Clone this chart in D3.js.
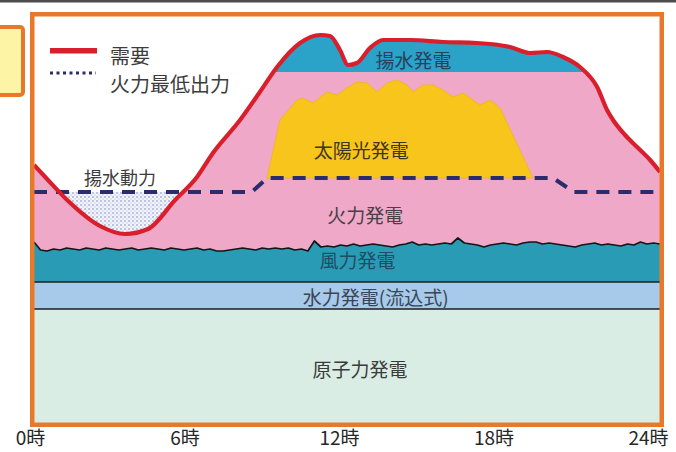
<!DOCTYPE html>
<html lang="ja">
<head>
<meta charset="utf-8">
<script src="https://cdn.jsdelivr.net/npm/d3@7"></script>
<style>
  html, body { margin: 0; padding: 0; background: #ffffff; }
  svg { display: block; }
  text { font-family: "Noto Sans CJK JP", "Noto Sans", sans-serif; }
</style>
</head>
<body>
<svg id="chart" width="676" height="452"></svg>
<script>
// ---- data (values in % of the daily peak scale) ----
const demandHours  = [0, 0.5, 1.27, 2.53, 3.49, 4.37, 5.41, 6.25, 6.86, 7.9, 8.66, 9.32, 10.2, 10.97, 11.35, 11.73, 12.04, 12.38, 12.88, 13.38, 14.42, 15.68, 16.98, 18.25, 19.02, 19.67, 20.28, 20.93, 21.59, 21.97, 22.2, 22.66, 23.12, 23.62, 24];
const demandValues = [64.5, 61, 55.75, 49.25, 47.25, 48.5, 55.75, 61.5, 67.5, 75.75, 82.75, 89, 95, 97, 96.75, 93.25, 89.5, 90, 93.75, 95.75, 95.75, 95.25, 95, 94, 92.5, 92.75, 91.5, 89, 84, 78.25, 75.75, 72, 69, 65.75, 62.75];

const thermalMinHours  = [0, 8.35, 8.95, 19.9, 20.7, 24];
const thermalMinValues = [57.75, 57.75, 61.25, 61.25, 57.75, 57.75];

const solarHours  = [8.93, 9.43, 10.08, 10.31, 10.7, 11.23, 11.62, 12.0, 12.38, 12.77, 13.15, 13.53, 13.92, 14.3, 14.53, 14.91, 15.3, 15.68, 16.06, 16.45, 16.83, 17.1, 17.48, 17.87, 19.13];
const solarOutput = [0, 14.5, 19.5, 20, 18.75, 21.5, 20.75, 22.5, 24, 23.75, 21.5, 23.75, 24.5, 23.25, 21.5, 23.25, 23.25, 22, 20.25, 21.25, 19.5, 18.25, 19.5, 17.5, 0];

// wind output every 15 minutes, 0:00 .. 24:00
const windOutput = [
  10.0, 8.0, 7.75, 8.25, 8.0, 8.5, 8.25, 8.0, 8.5, 8.25, 8.0, 8.5,
  8.25, 8.0, 8.25, 8.5, 8.0, 8.25, 8.5, 8.25, 8.0, 8.5, 8.25, 8.0,
  8.25, 8.5, 8.0, 8.25, 7.75, 7.75, 8.0, 8.25, 8.5, 8.25, 8.0, 8.5,
  8.25, 8.5, 8.25, 8.5, 8.0, 8.25, 7.75, 10.25, 8.75, 9.0, 8.75, 9.25,
  9.0, 9.5, 9.0, 9.25, 9.5, 9.25, 9.0, 8.75, 9.25, 9.5, 10.0, 9.25,
  9.5, 9.25, 9.5, 9.75, 9.5, 11.0, 9.75, 9.5, 9.25, 8.75, 9.25, 9.5,
  9.75, 9.5, 9.25, 9.75, 10.0, 10.0, 9.5, 9.75, 9.5, 9.25, 9.0, 8.75,
  9.25, 9.5, 9.75, 9.25, 9.5, 9.25, 9.0, 9.5, 9.25, 10.0, 9.5, 9.75, 9.5
];
const windHours = windOutput.map((_, i) => i * 0.25);

const nuclearOutput = 28.5;
const hydroOutput = 6.75;
const pumpedGenBase = 87.75;

const hourTicks = [0, 6, 12, 18, 24];
const legendLabels = ["需要", "火力最低出力"];

// ---- layout ----
const svg = d3.select("#chart");
const frame = { left: 34, right: 660, top: 16, bottom: 423 };

const x = d3.scaleLinear().domain([0, 24]).range([frame.left, frame.right]);
const y = d3.scaleLinear().domain([0, 100]).range([frame.bottom, 23]);
const thermalAt = d3.scaleLinear().domain(thermalMinHours).range(thermalMinValues);

const colors = {
  nuclear: "#d9ede4",
  hydro: "#a7c9ea",
  wind: "#2a9bb4",
  thermal: "#efa8c8",
  solar: "#f7c51c",
  pumpedGen: "#2ba2c8",
  demand: "#d91f2c",
  thermalMin: "#2b2c6c",
  frame: "#e8792b"
};

const defs = svg.append("defs");
defs.append("clipPath").attr("id", "plot-clip")
  .append("rect")
  .attr("x", frame.left).attr("y", frame.top)
  .attr("width", frame.right - frame.left).attr("height", frame.bottom - frame.top);
defs.append("clipPath").attr("id", "pumped-clip")
  .append("rect")
  .attr("x", frame.left).attr("y", frame.top)
  .attr("width", frame.right - frame.left).attr("height", y(pumpedGenBase) - frame.top);

const dots = defs.append("pattern").attr("id", "pump-dots")
  .attr("patternUnits", "userSpaceOnUse").attr("width", 4).attr("height", 4);
dots.append("rect").attr("width", 4).attr("height", 4).attr("fill", "#f3f4fb");
dots.append("circle").attr("cx", 1).attr("cy", 1).attr("r", 1).attr("fill", "#a9b6da");
dots.append("circle").attr("cx", 3).attr("cy", 3).attr("r", 0.8).attr("fill", "#c3cce6");

// top rule and the small side box
svg.append("rect").attr("x", 0).attr("y", 0).attr("width", 676).attr("height", 2.5).attr("fill", "#4d4d4d");
svg.append("rect").attr("x", -10).attr("y", 27).attr("width", 33).attr("height", 68).attr("rx", 3)
  .attr("fill", "#fdf4a6").attr("stroke", colors.frame).attr("stroke-width", 4);

const plot = svg.append("g").attr("clip-path", "url(#plot-clip)");
plot.append("rect")
  .attr("x", frame.left).attr("y", frame.top)
  .attr("width", frame.right - frame.left).attr("height", frame.bottom - frame.top)
  .attr("fill", "#ffffff");

const demandData = demandHours.map((h, i) => ({ h, v: demandValues[i] }));
const thermalData = thermalMinHours.map((h, i) => ({ h, v: thermalMinValues[i] }));
const windData = windHours.map((h, i) => ({ h, v: nuclearOutput + hydroOutput + windOutput[i] }));
const solarData = solarHours.map((h, i) => ({ h, base: thermalAt(h), v: thermalAt(h) + solarOutput[i] }));

// pumping power: space between the thermal minimum and the demand at night
plot.append("path")
  .attr("fill", "url(#pump-dots)")
  .attr("d", d3.area().x(d => x(d.h)).y0(y(0)).y1(d => y(d.v))(thermalData));

// thermal (everything under demand)
const demandArea = d3.area().curve(d3.curveMonotoneX)
  .x(d => x(d.h)).y0(y(0)).y1(d => y(d.v));
plot.append("path").attr("fill", colors.thermal).attr("d", demandArea(demandData));

// pumped-storage generation on top of the peak
plot.append("path").attr("fill", colors.pumpedGen)
  .attr("clip-path", "url(#pumped-clip)")
  .attr("d", demandArea(demandData));

// solar sits on the thermal minimum
plot.append("path")
  .attr("fill", colors.solar)
  .attr("stroke", "#edb818").attr("stroke-width", 0.8)
  .attr("d", d3.area().x(d => x(d.h)).y0(d => y(d.base)).y1(d => y(d.v))(solarData));

// wind, run-of-river hydro, nuclear
plot.append("path").attr("fill", colors.wind)
  .attr("d", d3.area().x(d => x(d.h)).y0(y(nuclearOutput + hydroOutput)).y1(d => y(d.v))(windData));
plot.append("path").attr("fill", "none").attr("stroke", "#161616").attr("stroke-width", 1.7)
  .attr("stroke-linejoin", "round")
  .attr("d", d3.line().x(d => x(d.h)).y(d => y(d.v))(windData));

const flat = [0, 24];
plot.append("path").attr("fill", colors.hydro)
  .attr("d", d3.area().x(h => x(h)).y0(y(nuclearOutput)).y1(y(nuclearOutput + hydroOutput))(flat));
plot.append("path").attr("fill", colors.nuclear)
  .attr("d", d3.area().x(h => x(h)).y0(y(0)).y1(y(nuclearOutput))(flat));
[nuclearOutput, nuclearOutput + hydroOutput].forEach(v => {
  plot.append("path").attr("stroke", "#1c1c1c").attr("stroke-width", 1.6).attr("fill", "none")
    .attr("d", d3.line().x(h => x(h)).y(y(v))(flat));
});

// thermal minimum output (dashed)
plot.append("path").datum(thermalData)
  .attr("fill", "none").attr("stroke", colors.thermalMin)
  .attr("stroke-width", 4).attr("stroke-dasharray", "13,9")
  .attr("d", d3.line().x(d => x(d.h)).y(d => y(d.v)));

// demand
plot.append("path").datum(demandData)
  .attr("fill", "none").attr("stroke", colors.demand)
  .attr("stroke-width", 4.2).attr("stroke-linejoin", "round")
  .attr("d", d3.line().curve(d3.curveMonotoneX).x(d => x(d.h)).y(d => y(d.v)));

// area labels
const labels = [
  { t: "揚水発電", h: 14.55, v: 91, size: 19, c: "#27415a" },
  { t: "太陽光発電", h: 12.55, v: 68.5, size: 19, c: "#3f3520" },
  { t: "火力発電", h: 12.7, v: 52.25, size: 19, c: "#474045" },
  { t: "揚水動力", h: 3.3, v: 61.5, size: 18, c: "#3c3c3c" },
  { t: "風力発電", h: 12.4, v: 41, size: 19, c: "#1f4d63" },
  { t: "水力発電(流込式)", h: 13.1, v: 31.75, size: 19, c: "#3a4656" },
  { t: "原子力発電", h: 12.5, v: 13.75, size: 19, c: "#3b3b3b" }
];
plot.selectAll("text.area-label").data(labels).join("text")
  .attr("class", "area-label")
  .attr("x", d => x(d.h)).attr("y", d => y(d.v))
  .attr("text-anchor", "middle").attr("dominant-baseline", "central")
  .attr("font-size", d => d.size).attr("fill", d => d.c)
  .text(d => d.t);

// frame
svg.append("rect")
  .attr("x", 32.25).attr("y", 14.25)
  .attr("width", 629.5).attr("height", 410.5)
  .attr("fill", "none").attr("stroke", colors.frame).attr("stroke-width", 4.5);

// legend
const legend = svg.append("g");
legend.append("rect").attr("x", 50).attr("y", 48).attr("width", 47).attr("height", 5.5).attr("fill", colors.demand);
legend.append("line").attr("x1", 50).attr("x2", 96).attr("y1", 73).attr("y2", 73)
  .attr("stroke", colors.thermalMin).attr("stroke-width", 3).attr("stroke-dasharray", "3,3.5");
legend.selectAll("text").data(legendLabels).join("text")
  .attr("x", 110).attr("y", (d, i) => 55 + i * 28.5)
  .attr("dominant-baseline", "central")
  .attr("font-size", 20).attr("fill", "#3c3c3c")
  .text(d => d);

// hour axis
const labelX = d3.scaleLinear().domain([0, 24]).range([30, 648]);
const axis = svg.append("g").attr("transform", "translate(0,431)")
  .call(d3.axisBottom(labelX).tickValues(hourTicks).tickSize(0).tickPadding(0).tickFormat(d => d + "時"));
axis.select(".domain").remove();
axis.selectAll("text")
  .attr("font-family", "'Liberation Serif', 'Noto Sans CJK JP', serif")
  .attr("font-size", 19).attr("fill", "#262626");
</script>
</body>
</html>
